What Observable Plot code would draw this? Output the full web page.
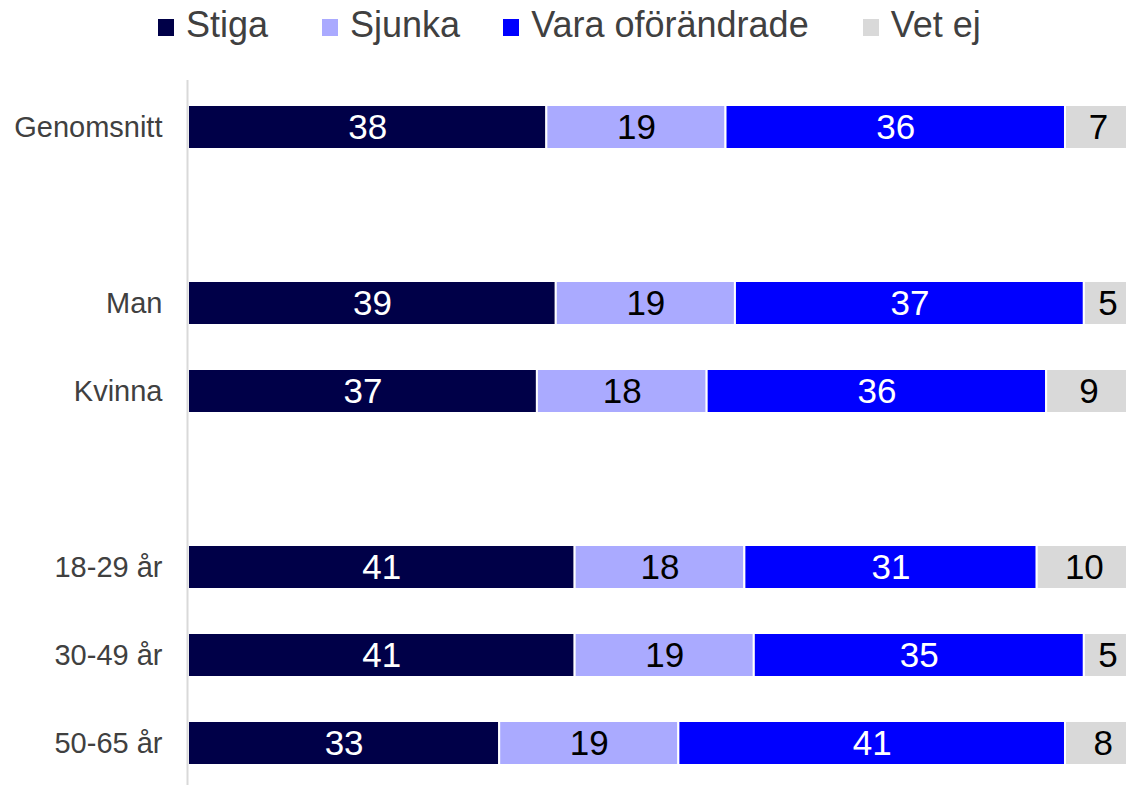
<!DOCTYPE html>
<html>
<head>
<meta charset="utf-8">
<script src="https://cdn.jsdelivr.net/npm/d3@7"></script>
<script src="https://cdn.jsdelivr.net/npm/@observablehq/plot@0.6"></script>
<style>
  html, body { margin: 0; padding: 0; background: #fff; }
  body { width: 1126px; height: 785px; overflow: hidden; font-family: "Liberation Sans", Arial, sans-serif; }
  #legend { height: 50px; display: flex; align-items: center; padding-left: 158px; box-sizing: border-box; font-size: 36px; color: #404040; }
  #legend .item { display: flex; align-items: center; }
  #legend .sw { width: 16px; height: 17px; margin-right: 12px; margin-top: 4px; }
  #chart { width: 1126px; overflow: hidden; }
  #chart svg { display: block; max-width: none !important; width: 1131px !important; height: 735px !important; }
</style>
</head>
<body>
<div id="legend"></div>
<div id="chart"></div>
<script>
const groups = ["Genomsnitt", "Man", "Kvinna", "18-29 år", "30-49 år", "50-65 år"];
const rowOrder = ["Genomsnitt", "gap1", "Man", "Kvinna", "gap2", "18-29 år", "30-49 år", "50-65 år"];
const seriesNames = ["Stiga", "Sjunka", "Vara oförändrade", "Vet ej"];
const seriesColors = ["#000048", "#aaaaff", "#0000ff", "#d9d9d9"];
const labelColors = ["white", "black", "white", "black"];
const stiga = [38, 39, 37, 41, 41, 33];
const sjunka = [19, 19, 18, 18, 19, 19];
const vara = [36, 37, 36, 31, 35, 41];
const vetej = [7, 5, 9, 10, 5, 8];

const seriesValues = [stiga, sjunka, vara, vetej];
const data = [];
groups.forEach((g, i) => {
  seriesNames.forEach((s, j) => {
    data.push({group: g, series: s, value: seriesValues[j][i], label: labelColors[j]});
  });
});

const legendGaps = [54, 43, 54, 0];
const legend = document.getElementById("legend");
seriesNames.forEach((s, j) => {
  const it = document.createElement("div");
  it.className = "item";
  it.style.marginRight = legendGaps[j] + "px";
  const sw = document.createElement("span");
  sw.className = "sw";
  sw.style.background = seriesColors[j];
  const tx = document.createElement("span");
  tx.textContent = s;
  it.appendChild(sw); it.appendChild(tx);
  legend.appendChild(it);
});

const stackOpts = {x: "value", y: "group", z: "series", order: seriesNames};

const chart = Plot.plot({
  width: 1131,
  height: 735,
  marginLeft: 188,
  marginRight: 0,
  marginTop: 44,
  marginBottom: 9,
  style: {fontFamily: "'Liberation Sans', Arial, sans-serif", background: "white", maxWidth: "none"},
  x: {domain: [0, 100], axis: null},
  y: {domain: rowOrder, paddingInner: 0.5, paddingOuter: 0.1, label: null},
  color: {domain: seriesNames, range: seriesColors},
  marks: [
    Plot.barX(data, Plot.stackX({...stackOpts, fill: "series", stroke: "white", strokeWidth: 2})),
    Plot.text(data, Plot.stackX({...stackOpts, text: d => d.label === "white" ? String(d.value) : "", fill: "white", fontSize: 35})),
    Plot.text(data, Plot.stackX({...stackOpts, text: d => d.label === "black" ? String(d.value) : "", fill: "black", fontSize: 35})),
    Plot.ruleX([0], {stroke: "#d9d9d9", strokeWidth: 2, dx: -1, insetTop: -14, insetBottom: -9}),
    Plot.axisY({tickSize: 0, tickPadding: 26, fontSize: 29, fill: "#404040", label: null, tickFormat: d => d.startsWith("gap") ? "" : d})
  ]
});
document.getElementById("chart").appendChild(chart);
</script>
</body>
</html>
